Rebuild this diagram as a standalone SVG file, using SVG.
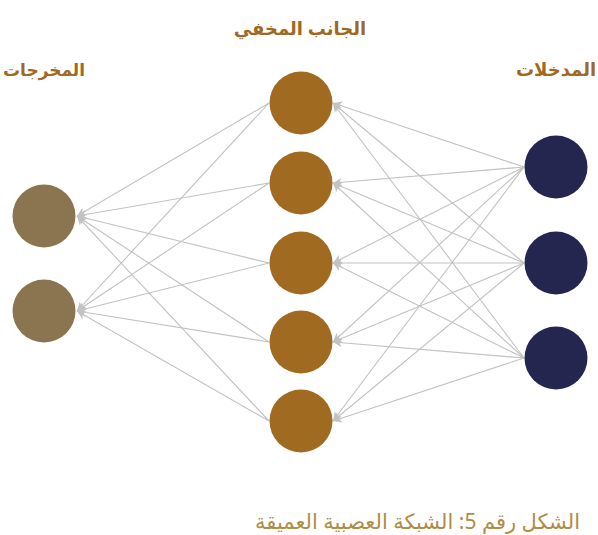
<svg xmlns="http://www.w3.org/2000/svg" width="598" height="535" viewBox="0 0 598 535">
<style>
.lbl{font-family:"Noto Sans","DejaVu Sans",sans-serif;font-weight:bold;font-size:18px;fill:#a0691f;text-anchor:middle}
.cap{font-family:"Noto Sans","DejaVu Sans",sans-serif;font-size:21px;fill:#b08d45;text-anchor:end}
.in{fill:#25264f}
.hid{fill:#a06a20}
.out{fill:#8b7550}
.c line{stroke:#c2c2c2;stroke-width:1.1;marker-end:url(#ah)}
</style>
<defs>
<marker id="ah" viewBox="0 0 10 10" refX="10" refY="5" markerWidth="9" markerHeight="9" markerUnits="userSpaceOnUse" orient="auto">
<path d="M0,0 L10,5 L0,10 L3,5 Z" fill="#c2c2c2"/>
</marker>
</defs>
<rect width="598" height="535" fill="#fff"/>
<g id="connectors" class="c">
<line x1="524" y1="167" x2="333" y2="103"/>
<line x1="524" y1="167" x2="333" y2="183"/>
<line x1="524" y1="167" x2="333" y2="263"/>
<line x1="524" y1="167" x2="333" y2="342"/>
<line x1="524" y1="167" x2="333" y2="421"/>
<line x1="524" y1="263" x2="333" y2="103"/>
<line x1="524" y1="263" x2="333" y2="183"/>
<line x1="524" y1="263" x2="333" y2="263"/>
<line x1="524" y1="263" x2="333" y2="342"/>
<line x1="524" y1="263" x2="333" y2="421"/>
<line x1="524" y1="358" x2="333" y2="103"/>
<line x1="524" y1="358" x2="333" y2="183"/>
<line x1="524" y1="358" x2="333" y2="263"/>
<line x1="524" y1="358" x2="333" y2="342"/>
<line x1="524" y1="358" x2="333" y2="421"/>
<line x1="269" y1="103" x2="77" y2="216"/>
<line x1="269" y1="183" x2="77" y2="216"/>
<line x1="269" y1="263" x2="77" y2="216"/>
<line x1="269" y1="342" x2="77" y2="216"/>
<line x1="269" y1="421" x2="77" y2="216"/>
<line x1="269" y1="103" x2="77" y2="311"/>
<line x1="269" y1="183" x2="77" y2="311"/>
<line x1="269" y1="263" x2="77" y2="311"/>
<line x1="269" y1="342" x2="77" y2="311"/>
<line x1="269" y1="421" x2="77" y2="311"/>
</g>
<g id="in1"><circle class="in" cx="556" cy="167" r="31.5"/></g>
<g id="in2"><circle class="in" cx="556" cy="263" r="31.5"/></g>
<g id="in3"><circle class="in" cx="556" cy="358" r="31.5"/></g>
<g id="h1"><circle class="hid" cx="301" cy="103" r="31.5"/></g>
<g id="h2"><circle class="hid" cx="301" cy="183" r="31.5"/></g>
<g id="h3"><circle class="hid" cx="301" cy="263" r="31.5"/></g>
<g id="h4"><circle class="hid" cx="301" cy="342" r="31.5"/></g>
<g id="h5"><circle class="hid" cx="301" cy="421" r="31.5"/></g>
<g id="o1"><circle class="out" cx="44" cy="216" r="31.5"/></g>
<g id="o2"><circle class="out" cx="44" cy="311" r="31.5"/></g>
<g id="labels">
<text class="lbl" x="300" y="35">الجانب المخفي</text>
<text class="lbl" x="44" y="76" style="font-size:17px">المخرجات</text>
<text class="lbl" x="556" y="76">المدخلات</text>
<text class="cap" x="580" y="529">الشكل رقم 5: الشبكة العصبية العميقة</text>
</g>
</svg>
